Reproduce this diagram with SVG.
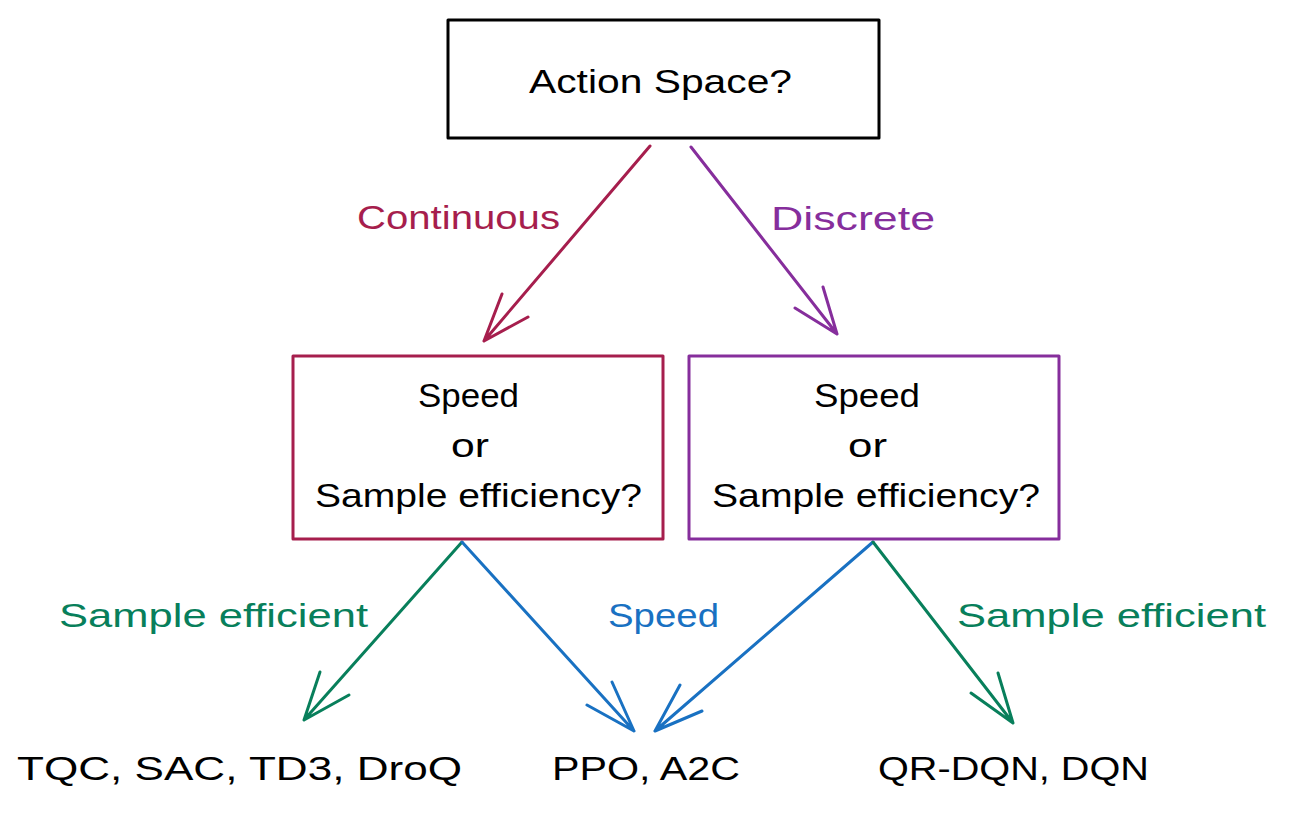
<svg xmlns="http://www.w3.org/2000/svg" width="1290" height="815" viewBox="0 0 1290 815">
<style>
  text { font-family: "Liberation Sans", "DejaVu Sans", sans-serif; font-size: 33px; }
  .box { fill: none; stroke-width: 3; stroke-linejoin: round; }
  .ln { fill: none; stroke-width: 3; stroke-linecap: round; stroke-linejoin: round; }
  .k { fill: #000000; }
  .crimson { stroke: #a61e4d; }
  .purple { stroke: #862e9c; }
  .green { stroke: #087f5b; }
  .blue { stroke: #1971c2; }
</style>
<rect width="1290" height="815" fill="#ffffff"/>

<g id="connectors">
  <g id="arrow-continuous">
    <path class="ln crimson" d="M650,146 L484,341 M502,294 L484,341 L528,317"/>
  </g>
  <g id="arrow-discrete">
    <path class="ln purple" d="M691,147 L837,334 M823,287 L837,334 L795,308"/>
  </g>
  <g id="arrow-left-sample">
    <path class="ln green" d="M462,542 L304,720 M320,672 L304,720 L349,695"/>
  </g>
  <g id="arrow-left-speed">
    <path class="ln blue" d="M462,542 L634,731 M612,682 L634,731 L587,705"/>
  </g>
  <g id="arrow-right-speed">
    <path class="ln blue" d="M873,542 L655,731 M680,685 L655,731 L702,711"/>
  </g>
  <g id="arrow-right-sample">
    <path class="ln green" d="M873,542 L1013,723 M998,673 L1013,723 L971,693"/>
  </g>
  <text x="357" y="229" fill="#a61e4d" textLength="203" lengthAdjust="spacingAndGlyphs">Continuous</text>
  <text x="771" y="230" fill="#862e9c" textLength="164" lengthAdjust="spacingAndGlyphs">Discrete</text>
  <text x="59" y="627" fill="#087f5b" textLength="309" lengthAdjust="spacingAndGlyphs">Sample efficient</text>
  <text x="608" y="627" fill="#1971c2" textLength="111" lengthAdjust="spacingAndGlyphs">Speed</text>
  <text x="957" y="627" fill="#087f5b" textLength="309" lengthAdjust="spacingAndGlyphs">Sample efficient</text>
</g>

<g id="node-action-space">
  <rect class="box" x="448" y="20" width="431" height="118" stroke="#000000"/>
  <text class="k" x="529" y="93" textLength="263" lengthAdjust="spacingAndGlyphs">Action Space?</text>
</g>

<g id="node-continuous-question">
  <rect class="box crimson" x="293" y="356" width="370" height="183"/>
  <text class="k" x="418" y="407" textLength="101" lengthAdjust="spacingAndGlyphs">Speed</text>
  <text class="k" x="451" y="457" textLength="38" lengthAdjust="spacingAndGlyphs">or</text>
  <text class="k" x="315" y="507" textLength="327" lengthAdjust="spacingAndGlyphs">Sample efficiency?</text>
</g>

<g id="node-discrete-question">
  <rect class="box purple" x="689" y="356" width="370" height="183"/>
  <text class="k" x="814" y="407" textLength="106" lengthAdjust="spacingAndGlyphs">Speed</text>
  <text class="k" x="848" y="457" textLength="39" lengthAdjust="spacingAndGlyphs">or</text>
  <text class="k" x="712" y="507" textLength="328" lengthAdjust="spacingAndGlyphs">Sample efficiency?</text>
</g>

<g id="node-continuous-sample">
  <text class="k" x="17" y="780" textLength="445" lengthAdjust="spacingAndGlyphs">TQC, SAC, TD3, DroQ</text>
</g>

<g id="node-speed">
  <text class="k" x="552" y="780" textLength="188" lengthAdjust="spacingAndGlyphs">PPO, A2C</text>
</g>

<g id="node-discrete-sample">
  <text class="k" x="878" y="780" textLength="271" lengthAdjust="spacingAndGlyphs">QR-DQN, DQN</text>
</g>
</svg>
